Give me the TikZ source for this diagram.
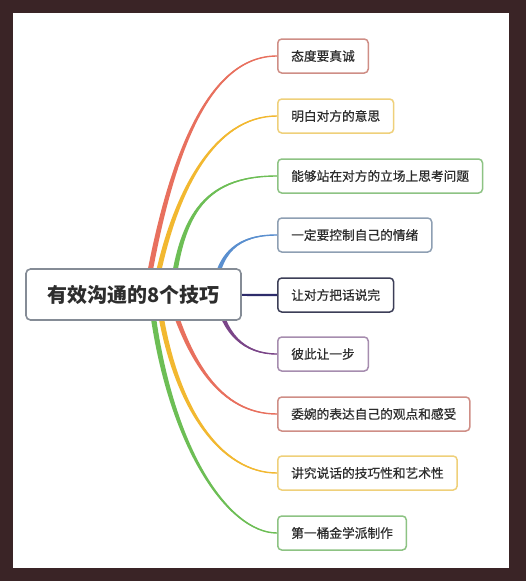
\documentclass[tikz,border=0pt]{standalone}
\usepackage{fontspec}
\newfontfamily\cjk{Noto Sans CJK SC}
\newfontfamily\cjkmed[FakeBold=0.6]{Noto Sans CJK SC}
\usetikzlibrary{calc}
\definecolor{framebg}{HTML}{3A2426}
\definecolor{txt}{HTML}{2D2D2D}
\definecolor{rootbd}{HTML}{858C96}
\definecolor{redbr}{HTML}{E8705E}\definecolor{redbd}{HTML}{CF8E86}
\definecolor{yelbr}{HTML}{F2B830}\definecolor{yelbd}{HTML}{EFD07A}
\definecolor{grnbr}{HTML}{6DBE55}\definecolor{grnbd}{HTML}{8DC383}
\definecolor{blubr}{HTML}{5A8FCF}\definecolor{blubd}{HTML}{8E9FB3}
\definecolor{navbr}{HTML}{2E2C6B}\definecolor{navbd}{HTML}{3C3E57}
\definecolor{purbr}{HTML}{7A4588}\definecolor{purbd}{HTML}{A68DAF}
\pgfdeclarelayer{bg}
\pgfsetlayers{bg,main}
\newcommand{\branch}[6]{%
  \fill[#1] ($(root.center)+(#2)+(-2.7,0)$) .. controls ($(#3)+(-2.5,0)$) and ($(#4)+(#6)$) .. (#5.west)
     .. controls ($(#4)-(#6)$) and ($(#3)+(2.5,0)$) .. ($(root.center)+(#2)+(2.7,0)$) -- cycle;
  \draw[#1, line width=1.4pt] ($(root.center)+(#2)$) .. controls (#3) and (#4) .. (#5.west);
}
\begin{document}
\begin{tikzpicture}[x=1pt, y=-1pt,
    topic/.style={draw, line width=1.5pt, rounded corners=4pt, fill=white, anchor=west,
      inner xsep=13.5pt, minimum height=34pt, text=txt, font=\cjkmed\fontsize{12.7}{14}\selectfont},
    rootbox/.style={draw=rootbd, line width=1.6pt, rounded corners=4.5pt, fill=white,
      minimum width=215pt, minimum height=51pt, text=txt, font=\cjk\bfseries\fontsize{20}{22}\selectfont}]
  \useasboundingbox (0,0) rectangle (526,581);
            \node[rootbox] (root) at (133.5,294.5) {有效沟通的8个技巧};
            \node[topic, draw=redbd] (t1) at (277,56) {态度要真诚};
            \node[topic, draw=yelbd] (t2) at (277,116) {明白对方的意思};
            \node[topic, draw=grnbd] (t3) at (277,176) {能够站在对方的立场上思考问题};
            \node[topic, draw=blubd] (t4) at (277,235) {一定要控制自己的情绪};
            \node[topic, draw=navbd] (t5) at (277,295) {让对方把话说完};
            \node[topic, draw=purbd] (t6) at (277,354) {彼此让一步};
            \node[topic, draw=redbd] (t7) at (277,414) {委婉的表达自己的观点和感受};
            \node[topic, draw=yelbd] (t8) at (277,473) {讲究说话的技巧性和艺术性};
            \node[topic, draw=grnbd] (t9) at (277,533) {第一桶金学派制作};
  \begin{pgfonlayer}{bg}
            \fill[framebg] (0,0) rectangle (526,581);
            \fill[white] (13,13) rectangle (509,568);
            \branch{redbr}{11.5,5.5}{170,150}{210,56}{t1}{0,-1.6}
            \branch{yelbr}{19.5,5.5}{172,190}{215,116}{t2}{0,-1.6}
            \branch{grnbr}{37.5,5.5}{180,220}{200,176}{t3}{0,-1.6}
            \branch{blubr}{80.5,5.5}{216,250}{240,235}{t4}{0,-1.4}
            \draw[navbr, line width=2.2pt] (root.center) -- (t5.west);
            \branch{purbr}{82.5,-4.5}{222,335}{245,354}{t6}{0,1.4}
            \branch{redbr}{34.5,-4.5}{188,360}{220,414}{t7}{0,1.6}
            \branch{yelbr}{23.5,-4.5}{172,410}{222,473}{t8}{0,1.6}
            \branch{grnbr}{16.5,-4.5}{166,445}{228,533}{t9}{0,1.6}
  \end{pgfonlayer}
\end{tikzpicture}
\end{document}
